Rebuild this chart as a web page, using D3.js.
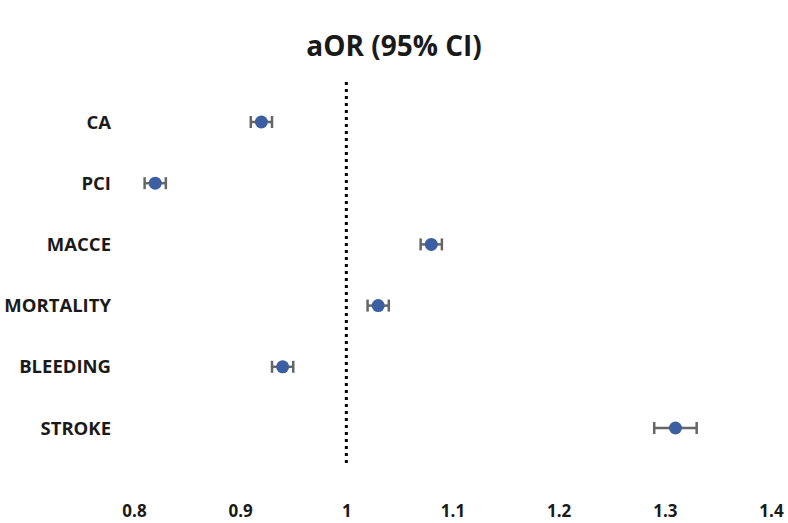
<!DOCTYPE html>
<html>
<head>
<meta charset="utf-8">
<script src="https://cdn.jsdelivr.net/npm/d3@7"></script>
<style>
  body { margin: 0; background: #fff; }
  text { font-family: "Open Sans", "Noto Sans", sans-serif; font-weight: bold; fill: #1a1a1a; }
</style>
</head>
<body>
<svg id="forest"></svg>
<script>
// data
var categories = ["CA", "PCI", "MACCE", "MORTALITY", "BLEEDING", "STROKE"];
var aor   = [0.92, 0.82, 1.08, 1.03, 0.94, 1.31];
var lower = [0.91, 0.81, 1.07, 1.02, 0.93, 1.29];
var upper = [0.93, 0.83, 1.09, 1.04, 0.95, 1.33];
var ticks = [0.8, 0.9, 1, 1.1, 1.2, 1.3, 1.4];

var width = 788, height = 523;
var svg = d3.select("#forest").attr("width", width).attr("height", height);

var x = d3.scaleLinear().domain([0.8, 1.4]).range([134, 771]);
var y = d3.scalePoint().domain(categories).range([122, 428]);

// title
svg.append("text")
  .attr("x", 394).attr("y", 56)
  .attr("text-anchor", "middle")
  .style("font-size", "28px")
  .text("aOR (95% CI)");

// reference line at 1
svg.append("line")
  .attr("x1", x(1)).attr("x2", x(1))
  .attr("y1", 82).attr("y2", 467)
  .attr("stroke", "#000")
  .attr("stroke-width", 3)
  .attr("stroke-dasharray", "3,4");

// x axis labels, no line
var xAxis = d3.axisBottom(x).tickValues(ticks).tickSize(0).tickFormat(d3.format("~g"));
var gx = svg.append("g").attr("transform", "translate(0,502)").call(xAxis);
gx.select(".domain").remove();
gx.selectAll("text").style("font-size", "17px").attr("fill", "#1a1a1a");

// category labels
svg.selectAll(".cat")
  .data(categories)
  .enter().append("text")
  .attr("class", "cat")
  .attr("x", 111)
  .attr("y", function(d) { return y(d); })
  .attr("dy", "0.36em")
  .attr("text-anchor", "end")
  .style("font-size", "18.5px")
  .text(function(d) { return d; });

var rows = categories.map(function(c, i) {
  return { cat: c, v: aor[i], lo: lower[i], hi: upper[i] };
});

var g = svg.selectAll(".row").data(rows).enter().append("g").attr("class", "row");

g.append("line")
  .attr("x1", function(d) { return x(d.lo); })
  .attr("x2", function(d) { return x(d.hi); })
  .attr("y1", function(d) { return y(d.cat); })
  .attr("y2", function(d) { return y(d.cat); })
  .attr("stroke", "#666").attr("stroke-width", 2.5);

[["lo"], ["hi"]].forEach(function(k) {
  g.append("line")
    .attr("x1", function(d) { return x(d[k[0]]); })
    .attr("x2", function(d) { return x(d[k[0]]); })
    .attr("y1", function(d) { return y(d.cat) - 6; })
    .attr("y2", function(d) { return y(d.cat) + 6; })
    .attr("stroke", "#666").attr("stroke-width", 2.5);
});

g.append("circle")
  .attr("cx", function(d) { return x(d.v); })
  .attr("cy", function(d) { return y(d.cat); })
  .attr("r", 6.5)
  .attr("fill", "#3b5fa0");
</script>
</body>
</html>
